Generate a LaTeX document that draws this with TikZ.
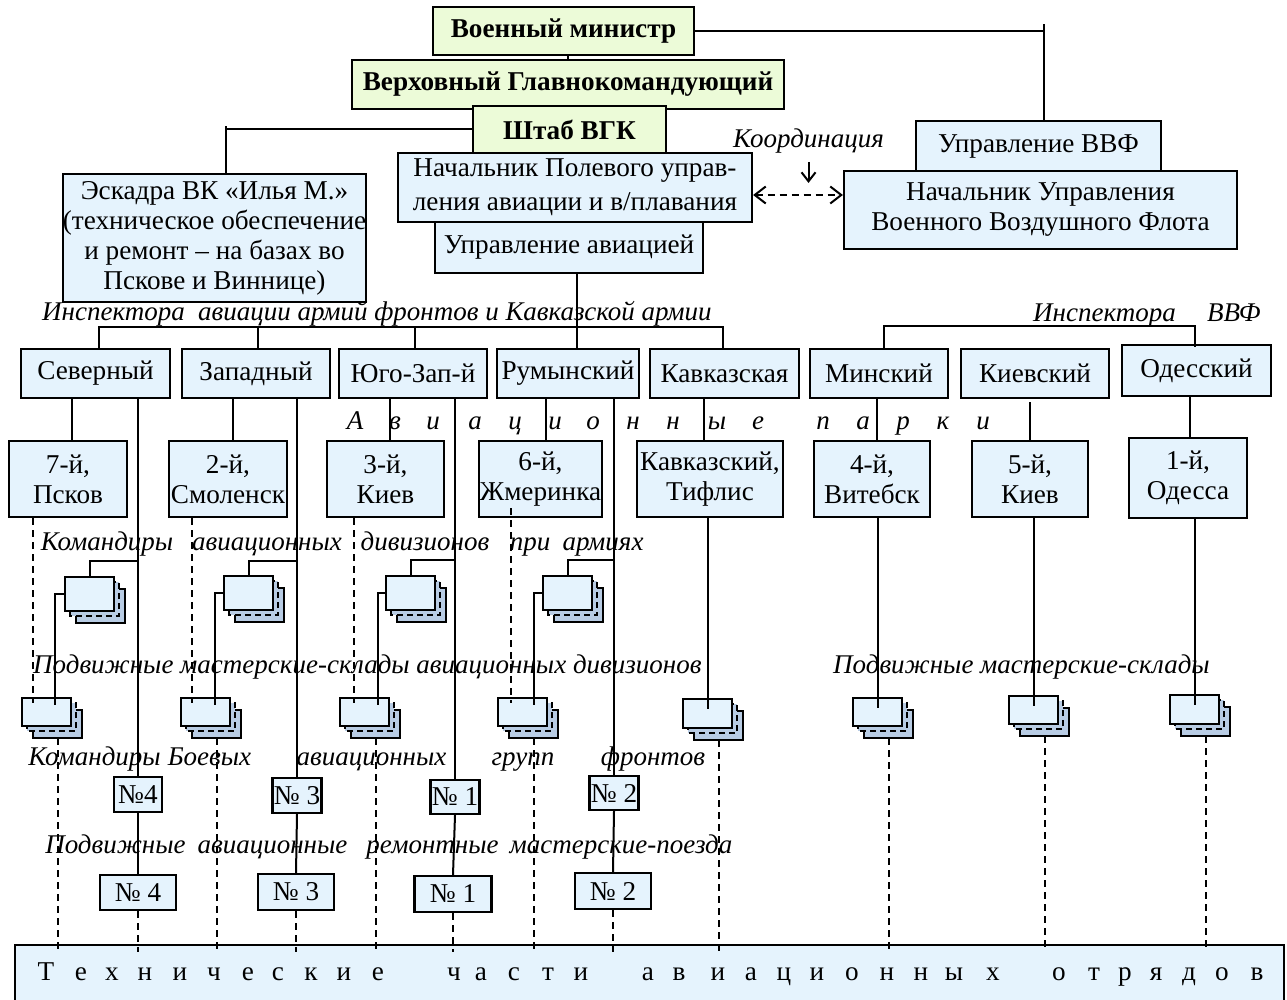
\documentclass[tikz,border=0pt]{standalone}
\usepackage{fontspec}
\setmainfont{Liberation Serif}
\usetikzlibrary{calc,arrows.meta}
\definecolor{grn}{RGB}{236,251,216}
\definecolor{lblue}{RGB}{229,243,253}
\definecolor{sblue}{RGB}{184,204,228}
\newcommand\dfont{\fontsize{27.2}{30}\selectfont}
\newcommand\ifont{\fontsize{27}{30}\selectfont\itshape}
\tikzset{cbarb/.tip={Straight Barb[length=11pt,width=17pt]},
  sbarb/.tip={Straight Barb[length=9pt,width=14pt]}}
% a stack of three sheets: name, left, top, height of the front sheet
\newcommand\drawstack[4]{%
  \path[stkback] (#2+12,#3+13) rectangle ++(49,#4);
  \path[stkmid] (#2+6,#3+6) rectangle ++(49,#4);
  \node[stkfront, minimum height=#4pt, anchor=north west] (#1) at (#2,#3) {};
  \coordinate (#1b) at (#2+36.5,#3+13+#4);
}
\begin{document}
\begin{tikzpicture}[x=1pt,y=-1pt,
  every node/.style={font=\dfont},
  box/.style={draw, line width=2.2pt, fill=lblue, inner sep=0pt, align=center},
  gbox/.style={box, fill=grn, font=\dfont\bfseries},
  link/.style={line width=2pt},
  dlink/.style={line width=2pt, dash pattern=on 7pt off 5pt},
  lab/.style={font=\ifont, inner sep=0pt, anchor=base},
  stkfront/.style={draw, line width=2.2pt, fill=lblue, minimum width=49pt, inner sep=0pt},
  stkback/.style={draw, line width=2pt, fill=sblue},
  stkmid/.style={draw, line width=2pt, fill=sblue, dash pattern=on 6pt off 4pt}]
\useasboundingbox (0,0) rectangle (1287,1000);

% ---- command level
\node[gbox, minimum width=261pt, minimum height=48pt] (vm) at (563.5,31) {Военный министр};
\node[gbox, minimum width=432pt, minimum height=49pt] (vgk) at (568,84.5) {Верховный Главнокомандующий};
\node[gbox, minimum width=193pt, minimum height=47pt] (shtab) at (569.5,129.5) {Штаб ВГК};
\node[box, minimum width=354pt, minimum height=69pt, font=\fontsize{27.2}{34}\selectfont] (npu) at (575,187.5)
  {Начальник Полевого управ-\\ления авиации и в/плавания};
\node[box, minimum width=268pt, minimum height=51pt] (ua) at (569,247.5) {Управление авиацией};
\node[box, minimum width=303pt, minimum height=128pt] (esk) at (214.5,238)
  {Эскадра ВК «Илья М.»\\(техническое обеспечение\\и ремонт – на базах во\\Пскове и Виннице)};
\node[box, minimum width=245pt, minimum height=50pt] (uvvf) at (1038.5,146) {Управление ВВФ};
\node[box, minimum width=393pt, minimum height=78pt] (nvvf) at (1040.5,210) {Начальник Управления\\Военного Воздушного Флота};

% ---- fronts and districts
\node[box, minimum width=149pt, minimum height=49pt] (sev) at (95.5,373.5) {Северный};
\node[box, minimum width=148pt, minimum height=49pt] (zap) at (256,373.5) {Западный};
\node[box, minimum width=148pt, minimum height=49pt] (yuz) at (413,373.5) {Юго-Зап-й};
\node[box, minimum width=142pt, minimum height=49pt] (rum) at (568,373.5) {Румынский};
\node[box, minimum width=149pt, minimum height=49pt] (kav) at (724.5,373.5) {Кавказская};
\node[box, minimum width=138pt, minimum height=49pt] (min) at (879,373.5) {Минский};
\node[box, minimum width=148pt, minimum height=49pt] (kiev) at (1035,373.5) {Киевский};
\node[box, minimum width=149pt, minimum height=51pt] (ode) at (1196.5,370.5) {Одесский};

% ---- aviation parks
\node[box, minimum width=118pt, minimum height=76pt] (p7) at (68,479) {7-й,\\Псков};
\node[box, minimum width=118pt, minimum height=76pt] (p2) at (228,479) {2-й,\\Смоленск};
\node[box, minimum width=117pt, minimum height=76pt] (p3) at (385.5,479) {3-й,\\Киев};
\node[box, minimum width=123pt, minimum height=76pt] (p6) at (540.5,479) {6-й,\\Жмеринка};
\node[box, minimum width=146pt, minimum height=76pt] (pkav) at (710,479) {Кавказский,\\Тифлис};
\node[box, minimum width=116pt, minimum height=76pt] (p4) at (872,479) {4-й,\\Витебск};
\node[box, minimum width=116pt, minimum height=76pt] (p5) at (1030,479) {5-й,\\Киев};
\node[box, minimum width=118pt, minimum height=80pt] (p1) at (1188,478) {1-й,\\Одесса};

% ---- stacks of sheets
\drawstack{su1}{64}{576}{34}
\drawstack{su2}{223}{575}{34}
\drawstack{su3}{385}{575}{34}
\drawstack{su4}{542}{575}{34}
\drawstack{sl1}{21}{697}{28}
\drawstack{sl2}{180}{697}{28}
\drawstack{sl3}{339}{697}{28}
\drawstack{sl4}{497}{697}{28}
\drawstack{sk}{682}{698}{29}
\drawstack{sm}{852}{697}{28}
\drawstack{skv}{1008}{695}{28}
\drawstack{so}{1169}{694}{29}

% ---- group numbers and trains
\node[box, minimum width=48pt, minimum height=35pt] (n4u) at (138,794.5) {№4};
\node[box, minimum width=49pt, minimum height=35pt] (n3u) at (297,795.5) {№ 3};
\node[box, minimum width=49pt, minimum height=34pt] (n1u) at (455,797) {№ 1};
\node[box, minimum width=49pt, minimum height=34pt] (n2u) at (614,793) {№ 2};
\node[box, minimum width=76pt, minimum height=35pt] (n4l) at (138,892.5) {№ 4};
\node[box, minimum width=76pt, minimum height=36pt] (n3l) at (296,892) {№ 3};
\node[box, minimum width=77pt, minimum height=36pt] (n1l) at (453,894) {№ 1};
\node[box, minimum width=76pt, minimum height=36pt] (n2l) at (613,891) {№ 2};

% ---- technical units
\node[box, minimum width=1269pt, minimum height=58pt] (tch) at (649.5,974) {};
\foreach \c/\x [count=\i] in {Т/46,е/81,х/112,н/145,и/180,ч/214,е/248,с/278,к/311,и/344,е/378,
  ч/454,а/481,с/514,т/548,и/581,а/648,в/679,и/718,а/751,ц/784,и/817,о/852,н/887,н/921,ы/954,х/993,
  о/1059,т/1094,р/1125,я/1156,д/1189,о/1222,в/1257}
  \node[inner sep=0pt, anchor=base] (tl\i) at (\x,980) {\c};

% ---- italic captions
\node[lab, anchor=base west] (koord) at (733,148) {Координация};
\node[lab, anchor=base west] (ins1) at (42,320) {Инспектора};
\node[lab, anchor=base west] (ins2) at (198,320) {авиации армий фронтов и Кавказской армии};
\node[lab, anchor=base west] (ins3) at (1033,321) {Инспектора};
\node[lab, anchor=base west] (ins4) at (1207,321) {ВВФ};
\foreach \c/\x [count=\i] in {А/355,в/395,и/433,а/475,ц/515,и/555,о/593,н/633,н/673,ы/717,е/758,
  п/823,а/863,р/903,к/943,и/983}
  \node[lab] (pl\i) at (\x,429) {\c};
\foreach \w/\x [count=\i] in {Командиры/107,авиационных/267,дивизионов/425,при/530,армиях/603}
  \node[lab] (kd\i) at (\x,550) {\w};
\node[lab, anchor=base west] (pm1) at (33,673) {Подвижные мастерские-склады авиационных дивизионов};
\node[lab, anchor=base west] (pm2) at (833,673) {Подвижные мастерские-склады};
\foreach \w/\x [count=\i] in {Командиры/94.5,Боевых/209.5,авиационных/371.5,групп/523,фронтов/653}
  \node[lab] (kb\i) at (\x,765) {\w};
\foreach \w/\x [count=\i] in {Подвижные/115.5,авиационные/272.5,ремонтные/432.5,мастерские-поезда/621}
  \node[lab] (pp\i) at (\x,853) {\w};

% ---- top connectors
\draw[link] (vgk.north) -- (vgk.north |- vm.south);
\path ([xshift=5.5pt]uvvf.north) coordinate (uvin);
\draw[link] (vm.east) -| (uvin);
\draw[link] (uvin) -- ($(uvin |- vm.east)+(0,-7)$);
\path ([xshift=11.5pt]esk.north) coordinate (eskin);
\draw[link] (shtab.west) -| (eskin);
\draw[link] (eskin) -- ($(eskin |- shtab.west)+(0,-3)$);
\draw[link, -sbarb] ($(koord.south)+(0,8)$) -- ($(koord.south)+(0,29)$);
\path ([yshift=-7.5pt]npu.east) coordinate (dl);
\draw[dlink, cbarb-cbarb] (dl) -- (dl -| nvvf.west);

% ---- inspectors of the fronts
\path ([xshift=8pt]ua.south) coordinate (uaout);
\coordinate (busL) at (99,327);
\path ([xshift=3.5pt]sev.north) coordinate (tsev);
\path ([xshift=2pt]zap.north) coordinate (tzap);
\path ([xshift=2pt]yuz.north) coordinate (tyuz);
\path ([xshift=-1.5pt]kav.north) coordinate (tkav);
\draw[link] (uaout) -- (uaout |- rum.north);
\draw[link] (tsev) -- (tsev |- busL) -- (tkav |- busL) -- (tkav);
\foreach \t in {tzap,tyuz} \draw[link] (\t) -- (\t |- busL);

% ---- inspectors of the air fleet
\coordinate (busR) at (900,326);
\path ([xshift=5pt]min.north) coordinate (tmin);
\path ([xshift=-1.5pt]ode.north) coordinate (tode);
\draw[link] (tmin) -- (tmin |- busR) -- (tode |- busR) -- ($(tode)+(0,3)$);

% ---- front columns
\path ([xshift=4pt]p7.north) coordinate (c7);
\path ([xshift=5pt]p2.north) coordinate (c2);
\path ([xshift=4.5pt]p3.north) coordinate (c3);
\path ([xshift=5.5pt]p6.north) coordinate (c6);
\draw[link] (c7 |- sev.south) -- (c7);
\draw[link] (c2 |- zap.south) -- (c2);
\draw[link] (c3 |- yuz.south) -- (c3);
\draw[link] (c6 |- rum.south) -- (c6);

\draw[link] (n4u.north |- sev.south) -- (n4u.north);
\draw[link] (n3u.north |- zap.south) -- (n3u.north);
\draw[link] (n1u.north |- yuz.south) -- (n1u.north);
\draw[link] (n2u.north |- rum.south) -- (n2u.north);

\draw[link] (n4u.north |- 0,561) -| (su1.north);
\draw[link] (n3u.north |- 0,561) -| (su2.north);
\draw[link] (n1u.north |- 0,560) -| (su3.north);
\draw[link] (n2u.north |- 0,560) -| (su4.north);

\draw[link] (su1.west) -| ($(sl1.north)+(8.5,8)$);
\draw[link] (su2.west) -| ($(sl2.north)+(9,8)$);
\draw[link] (su3.west) -| ($(sl3.north)+(13,8)$);
\draw[link] (su4.west) -| ($(sl4.north)+(11,8)$);

\path ($(p7.south)+(-35,0)$) coordinate (d7);
\path ($(p2.south)+(-36,0)$) coordinate (d2);
\path ($(p3.south)+(-31.5,0)$) coordinate (d3);
\path ($(p6.south)+(-29.5,-10)$) coordinate (d6);
\draw[dlink] (d7) -- ($(d7 |- sl1.north)+(0,6)$);
\draw[dlink] (d2) -- ($(d2 |- sl2.north)+(0,6)$);
\draw[dlink] (d3) -- ($(d3 |- sl3.north)+(0,6)$);
\draw[dlink] (d6) -- ($(d6 |- sl4.north)+(0,6)$);

\foreach \u/\l in {n4u/n4l,n3u/n3l,n1u/n1l,n2u/n2l} {
  \draw[link] (\u.south) -- (\l.north);
  \draw[dlink] (\l.south) -- ($(\l.south |- tch.north)+(0,8)$);
}

% ---- Caucasus and district columns
\path ([xshift=-6pt]pkav.north) coordinate (ck);
\path ([xshift=5pt]p4.north) coordinate (c4);
\path ([xshift=2pt]p1.north) coordinate (c1);
\draw[link] (ck |- kav.south) -- (ck);
\draw[link] (c4 |- min.south) -- (c4);
\draw[link] ($(p5.north |- kiev.south)+(0,3)$) -- (p5.north);
\draw[link] (c1 |- ode.south) -- (c1);
\foreach \p/\s in {pkav/sk,p4/sm,p5/skv,p1/so}
  \draw[link] (\s.north |- \p.south) -- ($(\s.north)+(0,11)$);

% ---- dashed ties down to the technical units
\foreach \s in {sl1,sl2,sl3,sl4,sk,sm,skv,so}
  \draw[dlink] (\s b) -- ($(\s b |- tch.north)+(0,8)$);
\end{tikzpicture}
\end{document}
